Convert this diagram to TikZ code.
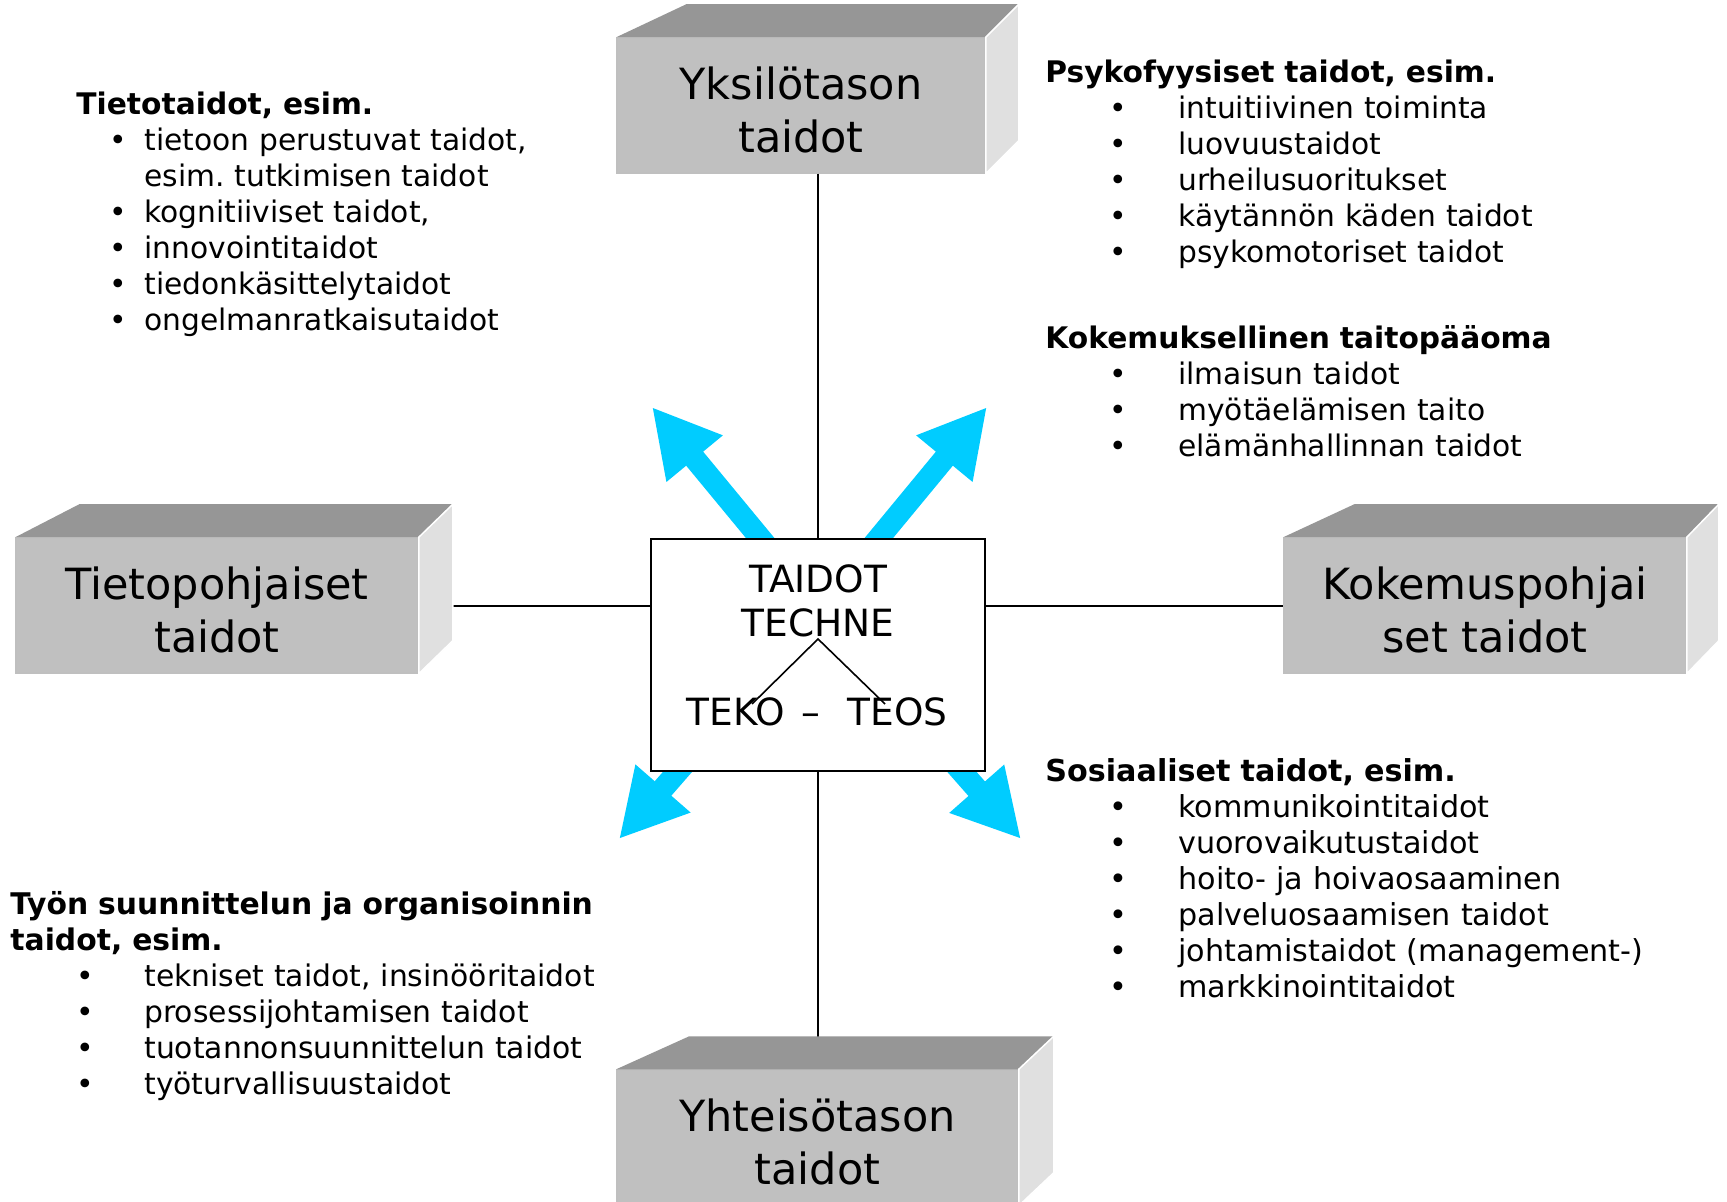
\documentclass[tikz,border=0pt]{standalone}
\usepackage{fontspec}
\setmainfont{DejaVu Sans}
\frenchspacing
\usetikzlibrary{arrows.meta}
\definecolor{facegray}{RGB}{192,192,192}
\definecolor{topgray}{RGB}{150,150,150}
\definecolor{sidegray}{RGB}{224,224,224}
\definecolor{skyarrow}{RGB}{0,204,255}
% top and side faces of a block: node, shift of left and right top corner
\newcommand{\relief}[3]{%
  \fill[topgray] (#1.north west) -- ++(#2,-33) -- ([shift={(#3,-33)}]#1.north east) -- (#1.north east) -- cycle;
  \filldraw[fill=sidegray, draw=white, line width=0.75pt] (#1.north east) -- ++(#3,-33) -- ([shift={(#3,-33)}]#1.south east) -- (#1.south east) -- cycle;
}
\newcommand{\bul}[2]{\hspace*{#1}\makebox[#2][l]{\textbullet}}

\begin{document}
\begin{tikzpicture}[x=0.5pt, y=-0.5pt,
    face/.style={draw=black!25, line width=0.75pt, fill=facegray, minimum height=67.5pt, inner sep=0pt, align=center, text height=47pt, text depth=0pt, font=\fontsize{21.5}{26.5}\selectfont},
    link/.style={draw, line width=1pt},
    skill/.style={color=skyarrow, line width=11pt, -{Triangle[length=33.5pt, width=34pt]}},
    list/.style={anchor=base west, inner sep=0pt, text width=330pt, align=left, font=\fontsize{14.85}{18}\selectfont},
    coretext/.style={inner sep=0pt, font=\fontsize{18.75}{22}\selectfont}]
  \useasboundingbox[fill=white] (0,0) rectangle (1727,1202);

  % the four blocks
  \node[face, minimum width=184pt] (indiv) at (801,105.5) {Yksilötason\\taidot};
  \node[face, minimum width=201pt] (knowl) at (217,605.5) {Tietopohjaiset\\taidot};
  \node[face, minimum width=201pt] (exper) at (1485,605.5) {Kokemuspohjai\\set taidot};
  \node[face, minimum width=200.5pt] (commun) at (817.5,1137.5) {Yhteisötason\\taidot};

  % blue arrows, under the centre box
  \coordinate (ulfoot) at (794,579);
  \coordinate (ultip) at (652,407);
  \coordinate (urfoot) at (845,579);
  \coordinate (urtip) at (987,407);
  \coordinate (llfoot) at (714,730);
  \coordinate (lltip) at (619,839);
  \coordinate (lrfoot) at (925,730);
  \coordinate (lrtip) at (1021,839);
  \draw[skill] (ulfoot) -- (ultip);
  \draw[skill] (urfoot) -- (urtip);
  \draw[skill] (llfoot) -- (lltip);
  \draw[skill] (lrfoot) -- (lrtip);

  % centre
  \node[draw, line width=1pt, fill=white, minimum width=167pt, minimum height=116pt] (core) at (818,655) {};
  \draw[link] (core.north |- indiv.south) -- (core.north);
  \draw[link] (core.south) -- (core.south |- commun.north);
  \draw[link] (knowl.east) -- (knowl.east -| core.west);
  \draw[link] (exper.west -| core.east) -- (exper.west);
  \node[coretext, anchor=base] (taidot) at (818,592) {TAIDOT};
  \node[coretext, anchor=base] (techne) at (818,636) {TECHNE};
  \node[coretext, anchor=base west] (pair) at (686,725) {TEKO\hspace{8pt}–\hspace{14pt}TEOS};
  \coordinate (apex) at (818,639);
  \coordinate (tekoend) at (752,704);
  \coordinate (teosend) at (885,704);
  \draw[line width=0.8pt] (tekoend) -- (apex) -- (teosend);

  % depth of the blocks, over the line ends
  \relief{indiv}{70}{33}
  \relief{knowl}{64}{34}
  \relief{exper}{71}{32}
  \relief{commun}{73}{35}

  % lists
  \node[list] (tieto) at (76,115) {\textbf{Tietotaidot, esim.}\\
    \bul{16.75pt}{17.25pt}tietoon perustuvat taidot,\\
    \hspace*{34pt}esim. tutkimisen taidot\\
    \bul{16.75pt}{17.25pt}kognitiiviset taidot,\\
    \bul{16.75pt}{17.25pt}innovointitaidot\\
    \bul{16.75pt}{17.25pt}tiedonkäsittelytaidot\\
    \bul{16.75pt}{17.25pt}ongelmanratkaisutaidot};
  \node[list] (psyko) at (1045,83) {\textbf{Psykofyysiset taidot, esim.}\\
    \bul{32.25pt}{34.25pt}intuitiivinen toiminta\\
    \bul{32.25pt}{34.25pt}luovuustaidot\\
    \bul{32.25pt}{34.25pt}urheilusuoritukset\\
    \bul{32.25pt}{34.25pt}käytännön käden taidot\\
    \bul{32.25pt}{34.25pt}psykomotoriset taidot};
  \node[list] (kokem) at (1045,349) {\textbf{Kokemuksellinen taitopääoma}\\
    \bul{32.25pt}{34.25pt}ilmaisun taidot\\
    \bul{32.25pt}{34.25pt}myötäelämisen taito\\
    \bul{32.25pt}{34.25pt}elämänhallinnan taidot};
  \node[list, font=\fontsize{15.1}{18}\selectfont] (sosiaal) at (1045,781) {\textbf{Sosiaaliset taidot, esim.}\\
    \bul{32.25pt}{34.25pt}kommunikointitaidot\\
    \bul{32.25pt}{34.25pt}vuorovaikutustaidot\\
    \bul{32.25pt}{34.25pt}hoito- ja hoivaosaaminen\\
    \bul{32.25pt}{34.25pt}palveluosaamisen taidot\\
    \bul{32.25pt}{34.25pt}johtamistaidot (management-)\\
    \bul{32.25pt}{34.25pt}markkinointitaidot};
  \node[list, font=\fontsize{14.9}{18}\selectfont] (tyon) at (10,914) {\textbf{Työn suunnittelun ja organisoinnin}\\
    \textbf{taidot, esim.}\\
    \bul{33.25pt}{33.75pt}tekniset taidot, insinööritaidot\\
    \bul{33.25pt}{33.75pt}prosessijohtamisen taidot\\
    \bul{33.25pt}{33.75pt}tuotannonsuunnittelun taidot\\
    \bul{33.25pt}{33.75pt}työturvallisuustaidot};
\end{tikzpicture}
\end{document}
